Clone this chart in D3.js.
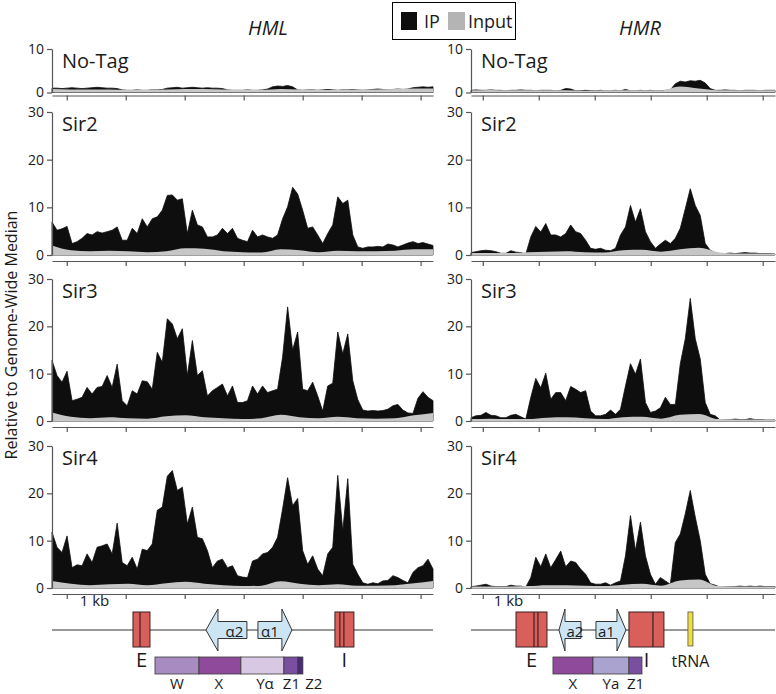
<!DOCTYPE html>
<html><head><meta charset="utf-8">
<script src="https://cdn.jsdelivr.net/npm/d3@7"></script>
<style>
body{margin:0;background:#fff}
svg{display:block}
text{font-family:'Open Sans','Noto Sans',sans-serif;fill:#1a1a1a}
</style></head>
<body><svg id="c" width="776" height="694"></svg>
<script>
// ---------------- DATA ----------------
const loci = ["HML", "HMR"];
const samples = ["No-Tag", "Sir2", "Sir3", "Sir4"];
const locusSpanKb = [6.46, 5.43];
const hmlTickKb = [0.25, 1.25, 2.25, 3.25, 4.25, 5.25, 6.25];
const hmrTickKb = [0.21, 1.21, 2.21, 3.21, 4.21, 5.21];
const yTicksNoTag = [0, 10];
const yTicksSir = [0, 10, 20, 30];

// IP, HML (evenly spaced across the locus)
const ipHML_NoTag = [1.0,1.0,0.9,1.0,1.1,1.0,0.9,1.0,1.1,1.2,1.1,1.0,1.0,0.9,
  0.6,0.5,0.5,0.6,0.5,0.5,0.6,0.6,0.7,
  1.0,1.1,1.2,1.0,1.1,1.2,1.1,1.0,1.1,1.0,1.0,0.9,
  0.6,0.5,0.5,0.5,0.6,0.5,0.5,0.6,0.8,
  1.3,1.5,1.4,1.6,1.3,
  0.6,0.5,0.6,0.6,0.5,0.6,0.7,0.6,0.5,0.6,0.6,0.7,0.6,0.5,0.6,0.7,0.8,0.7,0.6,0.7,0.8,0.7,0.8,
  1.1,1.2,1.3,1.2,1.3];
const ipHML_Sir2 = [6.9,5.2,5.5,6.0,2.4,2.8,3.5,4.5,4.2,4.9,4.6,4.9,5.2,5.9,3.1,3.1,5.6,4.5,7.6,5.9,
  7.6,8.0,9.4,12.5,12.6,11.5,11.8,4.5,9.4,6.3,5.9,3.8,3.8,4.2,5.6,4.5,5.6,3.5,3.1,2.8,
  5.2,3.8,4.2,3.8,3.5,4.2,7.6,10.1,14.2,12.8,9.4,5.6,5.9,4.2,2.4,4.5,6.3,12.2,10.8,11.5,
  4.2,1.7,1.4,1.7,1.7,1.8,1.7,2.3,2.1,1.7,2.1,2.5,2.8,2.4,2.6,2.3,2.0];
const ipHML_Sir3 = [12.8,9.6,8.2,10.5,4.3,4.6,5.0,7.1,5.7,7.1,7.3,9.6,7.1,12.0,4.3,3.2,6.4,5.7,8.5,8.3,
  6.7,14.5,12.4,21.6,20.5,17.4,19.5,9.6,17.0,9.6,10.6,5.3,6.4,7.1,7.8,5.3,7.4,3.9,3.9,4.3,
  7.4,5.7,7.4,6.0,6.4,6.7,13.5,24.1,15.0,18.8,6.7,6.4,8.2,5.3,2.1,7.4,8.0,18.8,14.2,18.4,
  8.5,4.5,2.3,2.1,2.2,2.1,2.2,2.5,3.2,3.5,2.3,1.7,1.6,4.8,6.2,5.0,4.3];
const ipHML_Sir4 = [11.8,8.6,7.5,11.0,4.3,4.9,4.7,7.2,5.4,8.6,8.9,9.3,7.2,13.7,5.4,4.7,6.5,4.0,8.2,7.9,
  9.3,16.4,17.1,23.6,24.8,20.6,21.3,13.5,17.1,10.7,10.4,7.9,4.3,5.7,6.1,4.3,4.7,2.6,2.3,2.2,
  5.7,6.1,7.2,7.5,8.6,10.7,16.7,23.3,17.4,18.9,7.9,5.0,6.8,4.0,2.6,7.2,8.6,23.8,12.1,23.1,
  5.0,2.9,1.1,0.8,1.1,0.9,1.5,1.6,2.6,2.2,1.6,1.1,3.3,4.3,4.7,6.1,4.0];

// IP, HMR
const ipHMR_NoTag = [0.5,0.6,0.5,0.5,0.6,0.5,0.5,0.4,0.5,0.5,0.6,0.5,0.5,0.4,0.5,0.5,0.5,0.4,0.5,
  0.9,0.8,
  0.4,0.4,0.5,0.4,0.4,0.5,0.4,0.4,0.5,0.4,
  0.7,
  0.4,0.4,0.5,0.4,0.5,0.4,0.4,0.5,0.6,
  2.0,2.6,2.4,2.7,2.6,2.8,2.2,0.9,
  0.5,0.5,0.6,0.5,0.5,0.4,0.5,0.5,0.5,0.4,0.5,0.5,0.5];
const ipHMR_Sir2 = [0.5,0.7,0.9,1.0,0.9,0.7,0.35,0.35,0.9,0.6,0.5,0.2,
  3.8,6.0,4.8,6.6,4.2,4.2,3.8,4.5,6.3,4.9,4.5,3.1,
  1.4,1.2,1.4,1.0,0.9,1.4,4.2,5.9,10.4,6.9,9.7,4.9,
  2.8,1.4,2.3,3.1,2.4,3.5,5.6,9.7,13.9,10.4,8.3,2.4,
  1.0,0.5,0.2,
  0.3,0.4,0.3,0.4,0.5,0.4,0.4,0.3,0.3,0.3,0.2];
const ipHMR_Sir3 = [0.7,1.1,1.2,1.8,1.2,1.1,0.7,0.7,1.2,1.4,0.9,0.4,
  5.0,9.0,7.0,10.1,4.6,6.0,6.0,4.3,7.3,6.7,6.0,6.4,
  2.1,1.1,1.1,1.4,2.3,1.4,2.5,7.4,12.1,9.9,13.1,3.9,
  1.8,2.1,2.8,5.0,3.5,3.5,12.1,17.4,25.9,17.4,13.1,3.9,
  1.4,1.1,0.2,
  0.3,0.3,0.4,0.3,0.3,0.5,0.3,0.3,0.2,0.2,0.2];
const ipHMR_Sir4 = [0.3,0.4,0.6,0.8,0.4,0.3,0.3,0.3,0.6,0.4,0.4,0.2,
  2.2,6.5,4.5,7.2,4.3,6.0,7.8,4.5,5.7,5.4,4.0,2.9,
  1.1,0.8,0.8,1.1,0.6,1.1,1.5,6.8,15.3,7.9,13.9,6.8,
  2.9,0.8,2.2,1.5,0.8,9.6,11.4,15.7,20.6,15.0,10.0,2.9,
  0.9,0.6,0.2,
  0.3,0.3,0.3,0.4,0.3,0.4,0.3,0.4,0.3,0.3,0.3];

// Input
const inHML_NoTag = [0.8,0.7,0.7,0.7,0.6,0.6,0.7,0.8,0.8,0.7,0.6,0.6,0.8,0.7,0.6,0.6,0.7,0.7,0.8,0.9,0.9];
const inHML_Sir2 = [2.0,1.0,0.8,0.9,0.8,0.6,0.8,1.4,1.3,0.8,0.6,0.5,1.2,1.0,0.6,0.9,0.8,0.8,0.9,1.2,1.2];
const inHML_Sir3 = [1.8,0.9,0.6,0.8,0.6,0.5,1.0,1.2,0.8,0.6,0.4,0.6,1.3,0.8,0.6,0.9,0.6,0.5,0.6,1.2,1.7];
const inHML_Sir4 = [1.5,0.9,0.6,0.8,0.9,0.6,1.0,1.3,0.9,0.6,0.4,0.5,1.4,0.9,0.6,0.8,0.5,0.5,0.6,1.0,1.5];
const inHMR_NoTag = [0.5,0.6,0.5,0.5,0.5,0.5,0.4,0.5,0.5,0.5,0.5,1.4,0.9,0.5,0.5,0.5,0.5];
const inHMR_Sir2 = [0.4,0.4,0.4,0.6,0.7,0.8,0.6,0.5,1.0,1.1,0.7,1.2,1.5,0.6,0.3,0.3,0.3];
const inHMR_Sir3 = [0.4,0.5,0.4,0.4,0.7,0.8,0.6,0.4,0.8,0.9,0.5,1.3,1.5,0.4,0.3,0.3,0.2];
const inHMR_Sir4 = [0.3,0.3,0.3,0.4,0.6,0.6,0.5,0.4,0.7,0.9,0.5,1.6,1.8,0.4,0.3,0.3,0.3];

// Gene maps (kb)
const hmlBoxes = [{label:"E", start:1.373, end:1.661, lines:[1.492]},
                  {label:"I", start:4.797, end:5.119, lines:[4.881, 4.949]}];
const hmrBoxes = [{label:"E", start:0.804, end:1.357, lines:[1.125, 1.196]},
                  {label:"I", start:2.821, end:3.446, lines:[3.25]}];
const hmlArrows = [{label:"α2", tail:3.305, base:2.814, tip:2.610},
                   {label:"α1", tail:3.492, base:3.898, tip:4.068}];
const hmrArrows = [{label:"a2", tail:1.964, base:1.679, tip:1.571},
                   {label:"a1", tail:2.232, base:2.607, tip:2.768}];
const hmrTRNA = [{label:"tRNA", start:3.875, end:3.964}];
const hmlSegments = [{label:"W", start:1.746, end:2.492, labelAt:2.12},
                     {label:"X", start:2.492, end:3.203, labelAt:2.83},
                     {label:"Yα", start:3.203, end:3.932, labelAt:3.61},
                     {label:"Z1", start:3.932, end:4.169, labelAt:4.06},
                     {label:"Z2", start:4.169, end:4.254, labelAt:4.44}];
const hmrSegments = [{label:"X", start:1.464, end:2.179, labelAt:1.82},
                     {label:"Ya", start:2.179, end:2.821, labelAt:2.50},
                     {label:"Z1", start:2.821, end:3.054, labelAt:2.94}];
const segColors = {"W":"#a88bc1","X":"#8f4a9b","Yα":"#d8c8e4","Ya":"#aaa3cf","Z1":"#7a4f9f","Z2":"#4a2b78"};

// ---------------- LAYOUT ----------------
const colLayout = [{x0:52, x1:433, ticks:hmlTickKb, titleX:268}, {x0:471, x1:775, ticks:hmrTickKb, titleX:640}];
const rowLayout = [{top:49, zero:92.5, axisY:95.5, max:10, ticks:yTicksNoTag},
                   {top:112, zero:255, axisY:261, max:30, ticks:yTicksSir},
                   {top:279, zero:421, axisY:427, max:30, ticks:yTicksSir},
                   {top:446, zero:588, axisY:594, max:30, ticks:yTicksSir}];
const ipData = {HML:[ipHML_NoTag, ipHML_Sir2, ipHML_Sir3, ipHML_Sir4], HMR:[ipHMR_NoTag, ipHMR_Sir2, ipHMR_Sir3, ipHMR_Sir4]};
const inData = {HML:[inHML_NoTag, inHML_Sir2, inHML_Sir3, inHML_Sir4], HMR:[inHMR_NoTag, inHMR_Sir2, inHMR_Sir3, inHMR_Sir4]};

const svg = d3.select("#c");
const axisCol = "#555";
const ipCol = "#0e0e0e", inCol = "#c6c6c6";

// titles
loci.forEach((L, ci) => {
  svg.append("text").attr("x", colLayout[ci].titleX).attr("y", 35).attr("text-anchor", "middle")
    .style("font-size", "20px").style("font-style", "italic").text(L);
});

// legend
const lg = svg.append("g");
lg.append("rect").attr("x", 392.5).attr("y", 2.5).attr("width", 123).attr("height", 37).attr("fill", "none").attr("stroke", "#000").attr("stroke-width", 1);
lg.append("rect").attr("x", 401).attr("y", 12).attr("width", 16).attr("height", 18).attr("fill", ipCol);
lg.append("text").attr("x", 424).attr("y", 28).style("font-size", "18px").text("IP");
lg.append("rect").attr("x", 448).attr("y", 12).attr("width", 17).attr("height", 18).attr("fill", "#b4b4b4");
lg.append("text").attr("x", 468).attr("y", 28).style("font-size", "18px").text("Input");

// y label
svg.append("text").attr("transform", "translate(17,335) rotate(-90)").attr("text-anchor", "middle")
  .style("font-size", "16px").text("Relative to Genome-Wide Median");

// panels
loci.forEach((L, ci) => {
  const c = colLayout[ci];
  const x = d3.scaleLinear().domain([0, locusSpanKb[ci]]).range([c.x0, c.x1]);
  samples.forEach((s, ri) => {
    const r = rowLayout[ri];
    const y = d3.scaleLinear().domain([0, r.max]).range([r.zero, r.top]);
    const g = svg.append("g");
    const ip = ipData[L][ri], inp = inData[L][ri];
    const posIP = ip.map((v, i) => i * locusSpanKb[ci] / (ip.length - 1));
    const posIn = inp.map((v, i) => i * locusSpanKb[ci] / (inp.length - 1));
    const area = d3.area().x(d => x(d[0])).y0(y(0)).y1(d => y(d[1]));
    g.append("path").datum(ip.map((v, i) => [posIP[i], v])).attr("d", area).attr("fill", ipCol)
      .attr("stroke", ipCol).attr("stroke-width", 0.8).attr("stroke-linejoin", "round");
    g.append("path").datum(inp.map((v, i) => [posIn[i], v])).attr("d", area.curve(d3.curveMonotoneX)).attr("fill", inCol);
    // y axis
    const ya = g.append("g").attr("transform", `translate(${c.x0},0)`).call(d3.axisLeft(y).tickValues(r.ticks).tickSize(5).tickPadding(3).tickSizeOuter(0));
    ya.select(".domain").attr("stroke", axisCol).attr("stroke-width", 1.2);
    ya.selectAll(".tick line").attr("stroke", axisCol).attr("stroke-width", 1.2);
    ya.selectAll(".tick text").style("font-size", "14px").style("font-family", "'Open Sans',sans-serif").attr("fill", "#1a1a1a");
    // x axis
    const xa = g.append("g").attr("transform", `translate(0,${r.axisY})`).call(d3.axisBottom(x).tickValues(c.ticks).tickSize(5).tickFormat("").tickSizeOuter(0));
    xa.select(".domain").attr("stroke", axisCol).attr("stroke-width", 1.2);
    xa.selectAll(".tick line").attr("stroke", axisCol).attr("stroke-width", 1.2);
    // panel label
    g.append("text").attr("x", c.x0 + 10).attr("y", r.top + 19).style("font-size", "20px").text(s);
  });

  // gene map
  const gm = svg.append("g");
  const yc = 630;
  gm.append("line").attr("x1", c.x0).attr("x2", c.x1).attr("y1", yc).attr("y2", yc).attr("stroke", "#333").attr("stroke-width", 1);
  gm.append("text").attr("x", x(ci === 0 ? 0.72 : 0.67)).attr("y", 606).attr("text-anchor", "middle").style("font-size", "15px").text("1 kb");
  const boxes = ci === 0 ? hmlBoxes : hmrBoxes;
  boxes.forEach(b => {
    gm.append("rect").attr("x", x(b.start)).attr("y", 612).attr("width", x(b.end) - x(b.start)).attr("height", 35)
      .attr("fill", "#d85f5a").attr("stroke", "#3a2020").attr("stroke-width", 1);
    b.lines.forEach(l => gm.append("line").attr("x1", x(l)).attr("x2", x(l)).attr("y1", 612).attr("y2", 647).attr("stroke", "#3a2020").attr("stroke-width", 1.2));
    gm.append("text").attr("x", (x(b.start) + x(b.end)) / 2).attr("y", 667).attr("text-anchor", "middle").style("font-size", "20px").text(b.label);
  });
  const arrows = ci === 0 ? hmlArrows : hmrArrows;
  arrows.forEach(a => {
    const pts = [[x(a.tip), yc], [x(a.base), yc - 21], [x(a.base), yc - 8.5], [x(a.tail), yc - 8.5],
                 [x(a.tail), yc + 8.5], [x(a.base), yc + 8.5], [x(a.base), yc + 21]];
    gm.append("path").attr("d", d3.line()(pts) + "Z").attr("fill", "#cce5f4").attr("stroke", "#333").attr("stroke-width", 1);
    const bodyMid = (x(a.tail) + x(a.base)) / 2;
    gm.append("text").attr("x", bodyMid + (a.tip < a.tail ? 2 : 0)).attr("y", 637).attr("text-anchor", "middle").style("font-size", "15px").attr("fill", "#333").text(a.label);
  });
  if (ci === 1) {
    hmrTRNA.forEach(t => {
      gm.append("rect").attr("x", x(t.start)).attr("y", 612).attr("width", x(t.end) - x(t.start)).attr("height", 34)
        .attr("fill", "#f2dd3a").attr("stroke", "#555").attr("stroke-width", 0.8);
      gm.append("text").attr("x", (x(t.start) + x(t.end)) / 2).attr("y", 667).attr("text-anchor", "middle").style("font-size", "16px").text(t.label);
    });
  }
  const segs = ci === 0 ? hmlSegments : hmrSegments;
  segs.forEach(sg => {
    gm.append("rect").attr("x", x(sg.start)).attr("y", 657).attr("width", x(sg.end) - x(sg.start)).attr("height", 17)
      .attr("fill", segColors[sg.label]).attr("stroke", "#3a3a3a").attr("stroke-width", 0.8);
    gm.append("text").attr("x", x(sg.labelAt)).attr("y", 689).attr("text-anchor", "middle").style("font-size", "15px").text(sg.label);
  });
});
</script></body></html>
